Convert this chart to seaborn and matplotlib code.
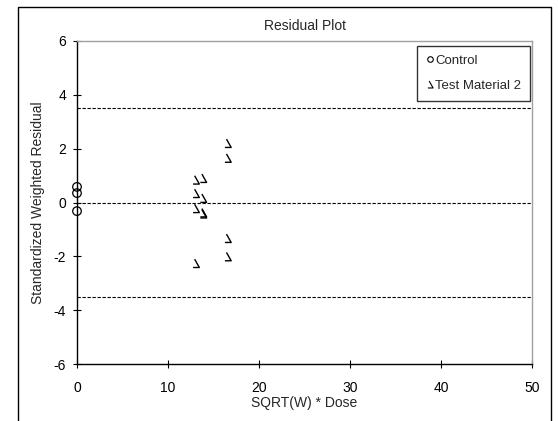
import numpy as np
import pandas as pd
import matplotlib
matplotlib.use("Agg")
import matplotlib.pyplot as plt
from matplotlib.path import Path
from matplotlib.lines import Line2D
import seaborn as sns

# Data
control_x = [0.0, 0.0, 0.0]
control_y = [0.58, 0.35, -0.32]
test_x = [16.6, 16.6, 13.9, 13.1, 13.1, 13.9, 13.1, 13.9, 13.9, 16.6, 16.6, 13.1]
test_y = [2.2, 1.65, 0.9, 0.84, 0.34, 0.16, -0.22, -0.38, -0.42, -1.33, -2.01, -2.26]
ref_lines = [3.5, 0.0, -3.5]
x_ticks = [0, 10, 20, 30, 40, 50]
y_ticks = [-6, -4, -2, 0, 2, 4, 6]

sns.set_theme(style="white")
plt.rcParams['font.family'] = ['Liberation Sans', 'DejaVu Sans']
plt.rcParams['axes.unicode_minus'] = False

fig = plt.figure(figsize=(5.58, 4.21), dpi=100)
ax = fig.add_axes([77/558, 1-364/421, (532-77)/558, (364-41)/421])

# outer border (left, top, right)
fig.add_artist(Line2D([18/558, 18/558, 551/558, 551/558],
                      [0, 1-7/421, 1-7/421, 0], transform=fig.transFigure,
                      color='black', lw=1.0))

tri = Path([(-0.19, 0.5), (0.375, -0.5), (-0.375, -0.5)],
           [Path.MOVETO, Path.LINETO, Path.LINETO])

df_c = pd.DataFrame({'x': control_x, 'y': control_y})
df_t = pd.DataFrame({'x': test_x, 'y': test_y})

for yv in ref_lines:
    ax.axhline(yv, color='black', lw=0.8, ls=(0, (3, 1.5)), zorder=1)

sns.scatterplot(data=df_c, x='x', y='y', ax=ax, marker='o', s=38,
                facecolor='none', edgecolor='black', linewidth=0.9,
                clip_on=False, zorder=3)
ax.scatter(df_t['x'], df_t['y'], marker=tri, s=36, facecolors='none',
           edgecolors='black', linewidths=1.0, zorder=3)

ax.set_xlim(0, 50)
ax.set_ylim(-6, 6)
ax.set_xticks(x_ticks)
ax.set_yticks(y_ticks)
ax.tick_params(direction='inout', length=6, width=0.8, labelsize=10,
               colors='black', pad=5, left=True, bottom=True)
ax.tick_params(axis='x', pad=9)

for s in ['left', 'bottom']:
    ax.spines[s].set_color('black')
    ax.spines[s].set_linewidth(1.0)
for s in ['top', 'right']:
    ax.spines[s].set_color('#a0a0a0')
    ax.spines[s].set_linewidth(1.0)

ax.set_title('Residual Plot', fontsize=10, pad=8)
ax.set_xlabel('SQRT(W) * Dose', fontsize=10, labelpad=1)
ax.set_ylabel('Standardized Weighted Residual', fontsize=10, labelpad=6)

handles = [
    Line2D([], [], marker='o', ls='none', markersize=4, markerfacecolor='none',
           markeredgecolor='black', markeredgewidth=0.8),
    Line2D([], [], marker=tri, ls='none', markersize=5, markerfacecolor='none',
           markeredgecolor='black', markeredgewidth=0.8),
]
leg = ax.legend(handles, ['Control', 'Test Material 2'], loc='upper right',
                bbox_to_anchor=(0.995, 0.985), fontsize=9.5, frameon=True,
                fancybox=False, edgecolor='black', handlelength=0.6,
                handletextpad=0.1, labelspacing=1.0, borderpad=0.65,
                borderaxespad=0)
leg.get_frame().set_linewidth(1.0)

fig.savefig('out.png', dpi=100)
